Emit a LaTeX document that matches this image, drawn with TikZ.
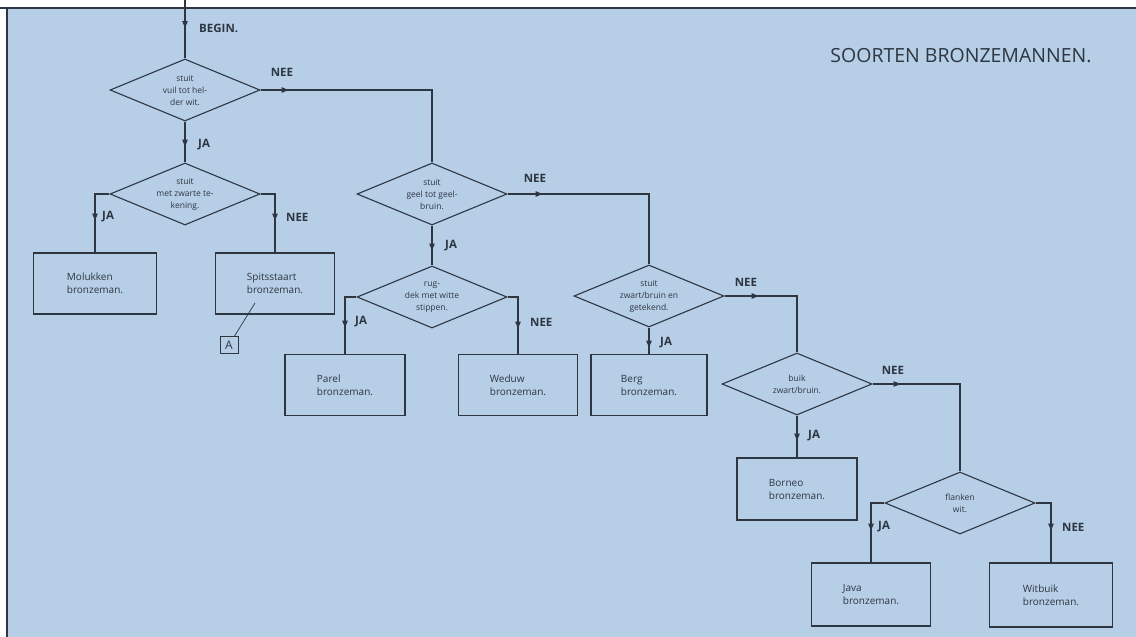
\documentclass[tikz,border=0pt]{standalone}
\usepackage{fontspec}
\setmainfont{Open Sans}
\usetikzlibrary{shapes.geometric,arrows.meta,decorations.markings}
\definecolor{scanblue}{RGB}{182,206,230}
\definecolor{inkgray}{RGB}{46,54,66}
\tikzset{
  vraag/.style={diamond, draw=inkgray, line width=1.1pt, aspect=2.4, minimum width=150pt, minimum height=62pt, inner sep=0pt, align=center, text=inkgray, font=\fontsize{8.5}{12}\selectfont},
  soort/.style={rectangle, draw=inkgray, line width=1.1pt, minimum width=120pt, minimum height=61pt, align=left, text=inkgray, font=\fontsize{10}{13}\selectfont},
  tak/.style={inner sep=0pt, text=inkgray, font=\bfseries\fontsize{11.5}{11.5}\selectfont},
  lijn/.style={color=inkgray, line width=1.1pt},
  pijl/.style={lijn, postaction={decorate, decoration={markings, mark=at position #1 with {\arrow{Triangle[length=7pt,width=5.5pt]}}}}}
}
\begin{document}
\begin{tikzpicture}[x=1pt, y=-1pt]
   \useasboundingbox (0,0) rectangle (1136,637);
   \fill[white] (0,0) rectangle (1136,637);
   \fill[scanblue] (7,8) rectangle (1136,637);
   \draw[inkgray, line width=1.8pt] (0,8) -- (1136,8);
   \draw[inkgray, line width=1.8pt] (7,8) -- (7,637);

   \node[text=inkgray, font=\fontsize{19.5}{19.5}\selectfont] (titel) at (961,56) {SOORTEN BRONZEMANNEN.};

   \node[vraag] (d1) at (185,90) {stuit\\vuil tot hel-\\der wit.};
   \node[vraag] (d3) at (185,194) {stuit\\met zwarte te-\\kening.};
   \node[vraag] (d2) at (432,194) {stuit\\geel tot geel-\\bruin.};
   \node[vraag] (d5) at (432,297) {rug-\\dek met witte\\stippen.};
   \node[vraag] (d4) at (649,296) {stuit\\zwart/bruin en\\getekend.};
   \node[vraag] (d6) at (797,384) {buik\\zwart/bruin.};
   \node[vraag] (d7) at (960,503) {flanken\\wit.};

   \node[soort, minimum width=123pt] (molukken) at (95,283.5) {Molukken\\bronzeman.};
   \node[soort, minimum width=119pt] (spits) at (275,283.5) {Spitsstaart\\bronzeman.};
   \node[soort] (parel) at (345,385) {Parel\\bronzeman.};
   \node[soort, minimum width=119pt] (weduw) at (518,385) {Weduw\\bronzeman.};
   \node[soort, minimum width=116pt] (berg) at (649,385) {Berg\\bronzeman.};
   \node[soort, minimum height=62pt] (borneo) at (797,489) {Borneo\\bronzeman.};
   \node[soort, minimum width=119pt, minimum height=63pt] (java) at (871,594.5) {Java\\bronzeman.};
   \node[soort, minimum width=123pt, minimum height=64pt] (witbuik) at (1051,595) {Witbuik\\bronzeman.};

   \node[draw=inkgray, line width=0.8pt, text=inkgray, inner sep=1.5pt, minimum width=18pt, minimum height=17pt, font=\fontsize{12}{12}\selectfont] (a) at (229,345) {A};
   \coordinate (wijs) at (255,303);
   \coordinate (start) at (185,0);

   \draw[pijl=28pt] (start) -- (d1.north);
   \draw[pijl=28pt] (d1.east) -| (d2.north);
   \draw[pijl=25pt] (d1.south) -- (d3.north);
   \draw[pijl=41pt] (d3.west) -| (molukken.north);
   \draw[pijl=41pt] (d3.east) -| (spits.north);
   \draw[pijl=35pt] (d2.east) -| (d4.north);
   \draw[pijl=25pt] (d2.south) -- (d5.north);
   \draw[pijl=42pt] (d5.west) -| (parel.north);
   \draw[pijl=42pt] (d5.east) -| (weduw.north);
   \draw[pijl=20pt] (d4.south) -- (berg.north);
   \draw[pijl=34pt] (d4.east) -| (d6.north);
   \draw[pijl=25pt] (d6.south) -- (borneo.north);
   \draw[pijl=28pt] (d6.east) -| (d7.north);
   \draw[pijl=41pt] (d7.west) -| (java.north);
   \draw[pijl=43pt] (d7.east) -| (witbuik.north);
   \draw[lijn, line width=0.7pt] (wijs) -- (a);

   \node[tak, anchor=west] (begin) at (199,28) {BEGIN.};
   \node[tak] (nee1) at (282,72.5) {NEE};
   \node[tak, anchor=west] (ja1) at (198,145) {JA};
   \node[tak, anchor=west] (ja3) at (102,217) {JA};
   \node[tak, anchor=west] (nee3) at (286,217) {NEE};
   \node[tak] (nee2) at (535,178) {NEE};
   \node[tak, anchor=west] (ja2) at (445,246) {JA};
   \node[tak, anchor=west] (ja5) at (355,322) {JA};
   \node[tak, anchor=west] (nee5) at (530,322) {NEE};
   \node[tak] (nee4) at (746,282) {NEE};
   \node[tak, anchor=west] (ja4) at (660,343) {JA};
   \node[tak] (nee6) at (893,370) {NEE};
   \node[tak, anchor=west] (ja6) at (808,436) {JA};
   \node[tak, anchor=west] (ja7) at (878,527) {JA};
   \node[tak, anchor=west] (nee7) at (1062,527) {NEE};
\end{tikzpicture}
\end{document}
